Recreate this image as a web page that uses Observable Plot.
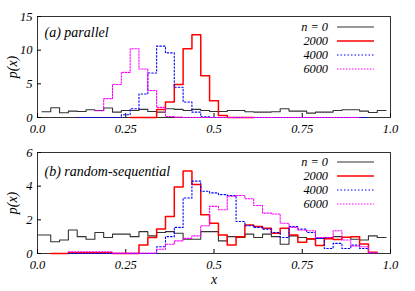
<!DOCTYPE html>
<html><head><meta charset="utf-8">
<script src="https://cdn.jsdelivr.net/npm/d3@7"></script>
<script src="https://cdn.jsdelivr.net/npm/@observablehq/plot@0.6"></script>
<style>
body{margin:0;background:#fff;}
#wrap{position:relative;width:415px;height:291px;font-family:"Liberation Serif","Times New Roman",Times,"DejaVu Serif",serif;font-style:italic;color:#000;}
#wrap svg{display:block;}
.lg{position:absolute;font-size:12.3px;line-height:12px;height:12px;white-space:nowrap;}
.lgt{right:87px;text-align:right;}
.lgl{left:337px;}
</style></head><body><div id="wrap"></div>
<script>
// bin width and tick values
const binWidth = 0.025;
const xTicks = [0, 0.25, 0.5, 0.75, 1];
const yTicksA = [0, 5, 10, 15];
const yTicksB = [0, 2, 4, 6];
const seriesNames = ["n = 0", "2000", "4000", "6000"];

// (a) parallel: histogram values, first bin centre given by *Start
const parN0Start = 0.025;
const parN0 = [0.85,1.45,0.7,0.95,0.9,1.15,1.05,1.4,0.8,1.05, 1.05,1.2,0.9,0.8,1.3,1.2,1.05,1.2,1.05,0.9, 0.9,1.05,1.05,0.85,0.8,0.8,0.85,1.3,0.95,0.95, 0.65,0.8,0.8,1.05,1.15,1.15,0.95,0.75,1.05];
const par2000Start = 0.275;
const par2000 = [0,0,0,1.2,2.3,4.9,10.2,12.3,6.2,2.5,0.3,0,0,0];
const par4000Start = 0.125;
const par4000 = [0,0,0,0,0,0.4,1.3,3.5,6.6,10.6,9.6,4.5,2.3,0.8,0.1,0,0,0,0,0,0,0,0,0,0,0,0,0,0,0,0,0,0];
const par6000Start = 0.175;
const par6000 = [1.0,2.8,4.9,6.7,10.2,7.2,4.0,1.5,0.15,0.05,0,0,0,0,0,0,0,0,0,0,0,0,0,0,0,0,0,0,0,0];

// (b) random-sequential
const rsN0Start = 0.0;
const rsN0 = [1.1,1.1,0.7,0.8,1.4,1.0,0.85,1.25,0.95,1.15, 1.15,1.0,1.3,1.05,1.25,1.3,1.2,0.85,0.85,1.3, 1.3,0.75,1.0,0.95,1.15,0.95,1.15,1.0,0.55,1.05, 0.95,0.85,0.9,0.95,1.0,0.95,0.85,0.8,1.05,0.95];
const rs2000Start = 0.05;
const rs2000 = [0,0,0.05,0.05,0.05,0.05,0.05,0,0,0, 0.5,0.95,1.45,2.2,3.95,4.9,4.1,2.3,1.8,1.1, 0.5,1.0,1.7,1.6,1.5,1.2,1.5,1.1,0.67,0.87, 0.47,0.87,0.83,0.97,1.0,0.57,0.08];
const rs4000Start = 0.1;
const rs4000 = [0,0,0,0,0,0,0,0,0,0, 0.4,1.0,1.55,3.3,4.3,3.7,3.6,3.5,3.45,1.9, 1.65,1.55,1.45,1.25,0.95,1.6,1.45,1.25,0.9,0.3, 0.6,0.3,0.5,0.3];
const rs6000Start = 0.1;
const rs6000 = [0.1,0.1,0.1,0.1,0.1,0.02,0.02,0.02,0.02,0.02, 0.25,0.55,0.75,0.9,1.05,1.65,2.8,2.6,3.4,3.45, 3.25,2.85,2.4,2.35,1.8,1.55,1.4,1.35,0.95,0.95, 1.35,0.8,0.45,0.4,0.05];

const styles = [
  {stroke: "#333333", strokeWidth: 1.1},
  {stroke: "#ff0000", strokeWidth: 1.5},
  {stroke: "#0000ff", strokeWidth: 1.1, strokeDasharray: "1.5,2"},
  {stroke: "#ff00ff", strokeWidth: 1.1, strokeDasharray: "1.5,1.5"}
];
const FONT = "'Liberation Serif', 'Times New Roman', Times, 'DejaVu Serif', serif";

function steps(start, vals) {
  const pts = vals.map((v, i) => ({x: Math.max(0, start + i * binWidth - binWidth / 2), y: v}));
  pts.push({x: Math.min(1, start + (vals.length - 1) * binWidth + binWidth / 2), y: vals[vals.length - 1]});
  return pts;
}
const fmtX = d => d === 0 ? "0.0" : d === 1 ? "1.0" : String(d);

function panel({height, marginTop, marginBottom, yDomain, yTicks, series, title, titleDy, xLabel}) {
  const marks = [
    Plot.frame({stroke: "#333"}),
    Plot.axisX(xTicks, {tickSize: -4, tickPadding: 11, tickFormat: fmtX, label: null, fontSize: 12.5}),
    Plot.axisY(yTicks, {tickSize: -4, tickPadding: 9, label: null, fontSize: 12.5}),
  ];
  series.forEach((s, i) => marks.push(Plot.line(steps(s[0], s[1]), {x: "x", y: "y", curve: "step-after", ...styles[i]})));
  marks.push(Plot.text([title], {frameAnchor: "top-left", dx: 7, dy: titleDy, fontSize: 14, lineAnchor: "middle"}));
  marks.push(Plot.text(["p(x)"], {frameAnchor: "left", dx: -25, rotate: -90, textAnchor: "middle", lineAnchor: "middle", fontSize: 14}));
  if (xLabel) marks.push(Plot.text([xLabel], {frameAnchor: "bottom", dy: 26, lineAnchor: "middle", fontSize: 14}));
  return Plot.plot({
    width: 415, height, marginTop, marginBottom, marginLeft: 37, marginRight: 25,
    x: {domain: [0, 1]}, y: {domain: yDomain},
    style: {fontFamily: FONT, fontStyle: "italic", fontSize: "13px", color: "#000", background: "transparent"},
    marks
  });
}

const wrap = document.getElementById("wrap");
wrap.appendChild(panel({height: 140, marginTop: 16, marginBottom: 23, yDomain: [0, 15], yTicks: yTicksA,
  series: [[parN0Start, parN0], [par2000Start, par2000], [par4000Start, par4000], [par6000Start, par6000]],
  title: "(a) parallel", titleDy: 16}));
wrap.appendChild(panel({height: 151, marginTop: 12, marginBottom: 38, yDomain: [0, 6], yTicks: yTicksB,
  series: [[rsN0Start, rsN0], [rs2000Start, rs2000], [rs4000Start, rs4000], [rs6000Start, rs6000]],
  title: "(b) random-sequential", titleDy: 19, xLabel: "x"}));

// legends
function legend(tops) {
  seriesNames.forEach((name, i) => {
    const t = document.createElement("div");
    t.className = "lg lgt"; t.style.top = (tops[i] - 6) + "px"; t.textContent = name;
    wrap.appendChild(t);
    const l = document.createElement("div");
    l.className = "lg lgl"; l.style.top = (tops[i] - 3) + "px"; l.style.height = "6px";
    const st = styles[i];
    l.innerHTML = `<svg width="37" height="6"><line x1="0" x2="37" y1="3" y2="3" stroke="${st.stroke}" stroke-width="${st.strokeWidth}" ${st.strokeDasharray ? `stroke-dasharray="${st.strokeDasharray}"` : ""}/></svg>`;
    wrap.appendChild(l);
  });
}
legend([27, 41, 55, 69]);
legend([162, 176, 190, 204]);
</script></body></html>
